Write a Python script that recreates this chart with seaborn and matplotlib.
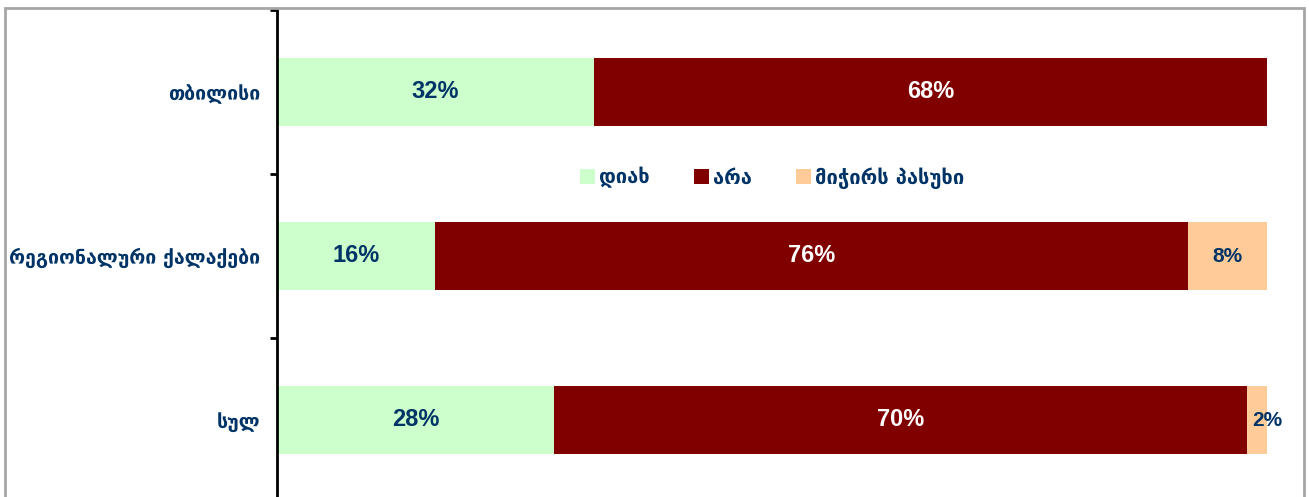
import pandas as pd
import matplotlib
import matplotlib.pyplot as plt
import seaborn as sns
from matplotlib.patches import Patch, Rectangle

matplotlib.use('Agg')

# data
categories = ['თბილისი', 'რეგიონალური ქალაქები', 'სულ']
series_names = ['დიახ', 'არა', 'მიჭირს პასუხი']
yes_vals = [32, 16, 28]
no_vals = [68, 76, 70]
dk_vals = [0, 8, 2]

colours = ['#CCFFCC', '#800000', '#FFCC99']
label_colours = ['#003366', 'white', '#003366']
navy = '#003366'

sns.set_style('white')
plt.rcParams['font.family'] = ['DejaVu Sans']

df = pd.DataFrame({
    'category': categories,
    'yes': yes_vals,
    'no': no_vals,
    'dk': dk_vals,
})
df['c1'] = df['yes']
df['c2'] = df['yes'] + df['no']
df['c3'] = df['c2'] + df['dk']

fig = plt.figure(figsize=(13.09, 4.97), dpi=100)
ax = fig.add_axes([277 / 1309, -5 / 497, 990 / 1309, 492 / 497])

# stacked bars: draw cumulative totals from the longest down
for col, colour in zip(['c3', 'c2', 'c1'], colours[::-1]):
    sns.barplot(data=df, x=col, y='category', order=categories,
                color=colour, width=0.41, saturation=1, ax=ax,
                edgecolor='none', linewidth=0)

# segment labels
for i, cat in enumerate(categories):
    left = 0
    for vals, lc in zip([yes_vals, no_vals, dk_vals], label_colours):
        v = vals[i]
        if v > 0:
            if v < 5:
                xpos, size = left + v, 15
            elif v < 10:
                xpos, size = left + v / 2, 15
            else:
                xpos, size = left + v / 2, 17
            ax.text(xpos, i, f'{v}%', ha='center', va='center',
                    color=lc, fontsize=size, fontweight='bold',
                    family='Liberation Sans')
        left += v

ax.set_xlim(0, 100)
ax.set_ylim(2.5, -0.5)
ax.set_xlabel('')
ax.set_ylabel('')
ax.set_xticks([])

for s in ['top', 'right', 'bottom']:
    ax.spines[s].set_visible(False)
ax.spines['left'].set_color('black')
ax.spines['left'].set_linewidth(2)

ax.tick_params(axis='y', which='major', length=0, pad=12,
               labelsize=14, labelcolor=navy)
for lab in ax.get_yticklabels():
    lab.set_fontweight('bold')
ax.set_yticks([-0.5, 0.5, 1.5, 2.5], minor=True)
ax.tick_params(axis='y', which='minor', length=5, width=2,
               color='black', left=True)

handles = [Patch(facecolor=c, edgecolor='none') for c in colours]
leg = ax.legend(handles, series_names, loc='center',
                bbox_to_anchor=(0.5, 0.659), ncol=3, frameon=False,
                handlelength=0.75, handleheight=0.75, handletextpad=0.2,
                columnspacing=2.2, prop={'size': 14.5, 'weight': 'bold'})
for t in leg.get_texts():
    t.set_color(navy)

# outer chart frame
fig.patches.append(Rectangle((5 / 1309, -0.05), 1299 / 1309, 1 - 7.5 / 497 + 0.05,
                             transform=fig.transFigure, fill=False,
                             edgecolor='#A6A6A6', linewidth=2, zorder=0))

fig.savefig('out.png', dpi=100)
